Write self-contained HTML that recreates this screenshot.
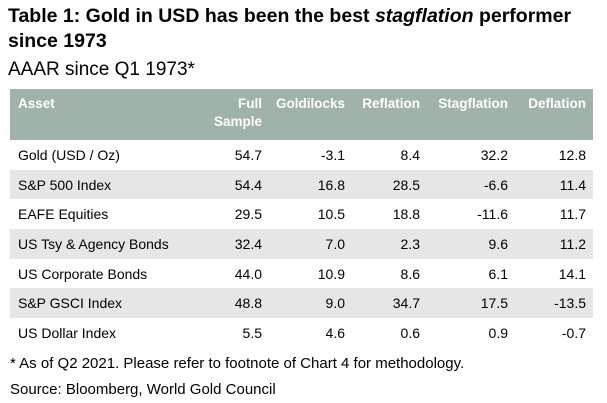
<!DOCTYPE html>
<html><head><meta charset="utf-8"><style>
body{margin:0;width:607px;height:403px;background:#fff;font-family:"Liberation Sans",sans-serif;color:#000;position:relative;overflow:hidden}
.t{position:absolute;white-space:nowrap}
table{position:absolute;left:10px;top:89px;width:583px;border-collapse:collapse;font-size:14px;table-layout:fixed}
th{background:#9fb3aa;color:#fff;font-weight:bold;text-align:right;vertical-align:top;padding:6px 7px 0 0;height:45px;line-height:18px;font-size:13.5px;box-sizing:border-box;height:51px}
th:first-child{text-align:left;padding-left:8px}
td{height:29.7px;padding:0 7px 0 0;text-align:right;box-sizing:border-box}
td:first-child{text-align:left;padding-left:8px}
tr.g td{background:#e6e6e6}
</style></head><body>
<div class="t" style="left:8px;top:4px;font-size:19.5px;font-weight:bold;line-height:25px">Table 1: Gold in USD has been the best <i>stagflation</i> performer<br>since 1973</div>
<div class="t" style="left:8px;top:59px;font-size:19px">AAAR since Q1 1973*</div>
<table>
<colgroup><col style="width:190px"><col style="width:69px"><col style="width:83px"><col style="width:75px"><col style="width:88px"><col style="width:78px"></colgroup>
<tr><th>Asset</th><th>Full<br>Sample</th><th>Goldilocks</th><th>Reflation</th><th>Stagflation</th><th>Deflation</th></tr>
<tr><td>Gold (USD / Oz)</td><td>54.7</td><td>-3.1</td><td>8.4</td><td>32.2</td><td>12.8</td></tr>
<tr class="g"><td>S&amp;P 500 Index</td><td>54.4</td><td>16.8</td><td>28.5</td><td>-6.6</td><td>11.4</td></tr>
<tr><td>EAFE Equities</td><td>29.5</td><td>10.5</td><td>18.8</td><td>-11.6</td><td>11.7</td></tr>
<tr class="g"><td>US Tsy &amp; Agency Bonds</td><td>32.4</td><td>7.0</td><td>2.3</td><td>9.6</td><td>11.2</td></tr>
<tr><td>US Corporate Bonds</td><td>44.0</td><td>10.9</td><td>8.6</td><td>6.1</td><td>14.1</td></tr>
<tr class="g"><td>S&amp;P GSCI Index</td><td>48.8</td><td>9.0</td><td>34.7</td><td>17.5</td><td>-13.5</td></tr>
<tr><td>US Dollar Index</td><td>5.5</td><td>4.6</td><td>0.6</td><td>0.9</td><td>-0.7</td></tr>
</table>
<div class="t" style="left:10px;top:355px;font-size:15px">* As of Q2 2021. Please refer to footnote of Chart 4 for methodology.</div>
<div class="t" style="left:10px;top:381px;font-size:15px">Source: Bloomberg, World Gold Council</div>
</body></html>
